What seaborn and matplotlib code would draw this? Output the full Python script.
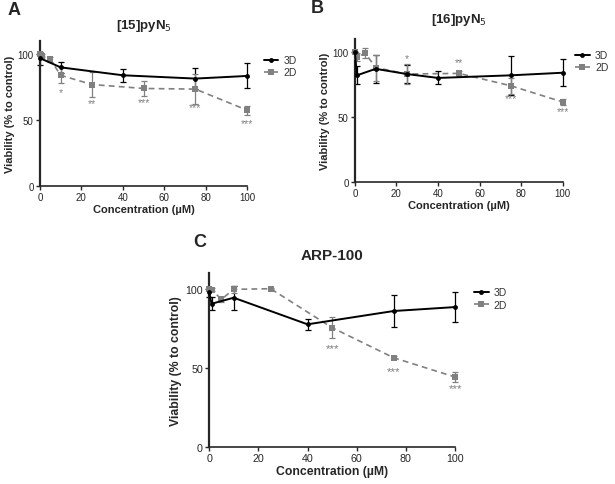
#!/usr/bin/env python3
"""
Viability of 3D vs 2D cultures for three compounds (panels A-C).
Output: out.png
"""

import pandas as pd
import matplotlib.pyplot as plt
import seaborn as sns

# ---- data ----
# panel A: [15]pyN5
conc_3d_a = [0, 10, 40, 75, 100]
via_3d_a = [97, 90, 84, 81.5, 83.5]
err_3d_a = [5, 4, 5, 8, 9.5]
conc_2d_a = [0, 1, 5, 10, 25, 50, 75, 100]
via_2d_a = [100, 99, 96, 84, 77, 74, 73.5, 57.5]
err_2d_a = [1, 1, 2, 6, 9.5, 6, 11.5, 3.5]
stars_a = [(10, 71, "*"), (25, 63, "**"), (50, 64, "***"), (75, 60, "***"), (100, 48, "***")]

# panel B: [16]pyN5
conc_3d_b = [0, 1, 10, 25, 40, 75, 100]
via_3d_b = [100, 82, 87, 83, 80, 82, 84]
err_3d_b = [0, 7, 11, 7, 5, 15, 10.5]
conc_2d_b = [0, 1, 5, 10, 25, 50, 75, 100]
via_2d_b = [100, 96, 99, 88, 83, 83.5, 74, 61.5]
err_2d_b = [0, 3, 4, 10, 8, 2, 6, 2]
stars_b = [(25, 95, "*"), (50, 92, "**"), (75, 64.5, "***"), (100, 54.5, "***")]

# panel C: ARP-100
conc_3d_c = [0, 1, 10, 40, 75, 100]
via_3d_c = [98, 90.5, 94.3, 77.5, 85.9, 88.4]
err_3d_c = [3, 4, 7.5, 3.5, 10, 9.5]
conc_2d_c = [0, 1, 5, 10, 25, 50, 75, 100]
via_2d_c = [100, 99.4, 93.3, 99.6, 100, 75.4, 56.4, 44.2]
err_2d_c = [0, 1, 1.5, 2, 0.5, 6.5, 1, 3]
stars_c = [(50, 62.5, "***"), (75, 48, "***"), (100, 37, "***")]

sns.set_theme(style="ticks")
plt.rcParams["font.family"] = ["Liberation Sans", "DejaVu Sans"]

GRAY = "#808080"


def panel(fig, rect, letter, title, d3, d2, stars, letter_xy, title_y,
          legend_anchor, fs=1.0, title_fs=9.5):
    ax = fig.add_axes(rect)
    df3 = pd.DataFrame({"conc": d3[0], "via": d3[1]})
    df2 = pd.DataFrame({"conc": d2[0], "via": d2[1]})

    ax.errorbar(d3[0], d3[1], yerr=d3[2], fmt="none", ecolor="black",
                elinewidth=0.9, capsize=2.5, capthick=0.9, clip_on=False, zorder=2)
    ax.errorbar(d2[0], d2[1], yerr=d2[2], fmt="none", ecolor=GRAY,
                elinewidth=0.9, capsize=2.5, capthick=0.9, clip_on=False, zorder=2)
    sns.lineplot(data=df3, x="conc", y="via", ax=ax, color="black", lw=1.4,
                 marker="o", markersize=3.5, markeredgewidth=0, label="3D",
                 clip_on=False, zorder=4)
    sns.lineplot(data=df2, x="conc", y="via", ax=ax, color=GRAY, lw=1.2,
                 linestyle=(0, (3.5, 2.5)), marker="s", markersize=4,
                 markeredgewidth=0, label="2D", clip_on=False, zorder=3)

    for x, y, s in stars:
        ax.text(x, y, s, color=GRAY, fontsize=7.5 * fs, ha="center", va="center")

    ax.set_xlim(0, 100)
    ax.set_ylim(0, 110)
    ax.set_xticks([0, 20, 40, 60, 80, 100])
    ax.set_yticks([0, 50, 100])
    ax.tick_params(labelsize=7 * fs, length=3, width=1, pad=1.5)
    for sp in ["top", "right"]:
        ax.spines[sp].set_visible(False)
    ax.spines["left"].set_linewidth(1.6)
    ax.spines["bottom"].set_linewidth(1.2)
    ax.set_xlabel("Concentration (µM)", fontsize=8 * fs, fontweight="bold", labelpad=1)
    ax.set_ylabel("Viability (% to control)", fontsize=8 * fs, fontweight="bold", labelpad=2)
    ax.set_title(title, fontsize=title_fs, fontweight="bold", y=title_y, pad=0)

    leg = ax.legend(loc="upper left", bbox_to_anchor=legend_anchor, frameon=False,
                    fontsize=7.5, handlelength=1.4, handletextpad=0.5,
                    labelspacing=0.2, borderaxespad=0)
    for t in leg.get_texts():
        t.set_color("#333333")

    fig.text(letter_xy[0], letter_xy[1], letter, fontsize=13, fontweight="bold",
             ha="left", va="center")
    return ax


fig = plt.figure(figsize=(6.15, 4.85), dpi=100)

panel(fig, [0.065, 0.6144, 0.337, 0.299], "A", "[15]pyN$_5$",
      (conc_3d_a, via_3d_a, err_3d_a), (conc_2d_a, via_2d_a, err_2d_a), stars_a,
      (0.012, 0.978), 1.09, (1.06, 0.93))
panel(fig, [0.577, 0.6227, 0.338, 0.295], "B", "[16]pyN$_5$",
      (conc_3d_b, via_3d_b, err_3d_b), (conc_2d_b, via_2d_b, err_2d_b), stars_b,
      (0.505, 0.983), 1.12, (1.04, 0.95))
panel(fig, [0.340, 0.0763, 0.400, 0.359], "C", "ARP-100",
      (conc_3d_c, via_3d_c, err_3d_c), (conc_2d_c, via_2d_c, err_2d_c), stars_c,
      (0.315, 0.50), 1.08, (1.06, 0.94), fs=1.1, title_fs=11)

fig.savefig("out.png", dpi=100, facecolor="white")
plt.close(fig)
